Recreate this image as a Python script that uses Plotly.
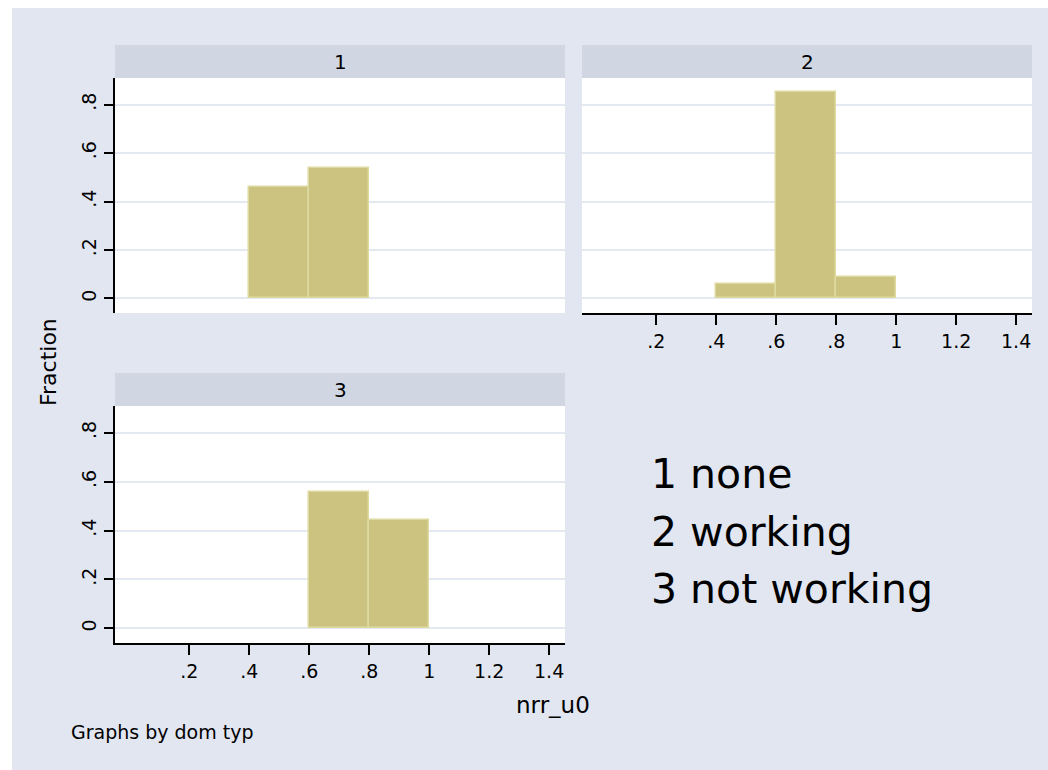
import plotly.graph_objects as go

# Histogram of nrr_u0 by dom typ (fraction of observations per bin)
bin_width = 0.2
panel_names = ["1", "2", "3"]
legend_lines = ["1 none", "2 working", "3 not working"]

bins_1 = [0.4, 0.6]
frac_1 = [0.462, 0.538]
bins_2 = [0.4, 0.6, 0.8]
frac_2 = [0.059, 0.853, 0.088]
bins_3 = [0.6, 0.8]
frac_3 = [0.556, 0.444]

x_tickvals = [0.2, 0.4, 0.6, 0.8, 1.0, 1.2, 1.4]
x_ticktext = [".2", ".4", ".6", ".8", "1", "1.2", "1.4"]
y_tickvals = [0, 0.2, 0.4, 0.6, 0.8]
y_ticktext = ["0", ".2", ".4", ".6", ".8"]

W, H = 1048, 770
BG = "#E1E6F0"
STRIP = "#D0D7E2"
GRID = "#E3E8F1"
BAR_FILL = "#CBC37F"
BAR_LINE = "#DEDA9F"
FONT = "DejaVu Sans"


def fx(px):
    return px / W


def fy(py):
    return 1 - py / H


# plot regions in pixels: (left, right, top, bottom)
regions = [
    (115, 565, 78, 313),
    (582, 1032, 78, 313),
    (115, 565, 406, 643),
]
x_range = [-0.048, 1.453]
y_range = [-0.06, 0.91]

fig = go.Figure()

datasets = [(bins_1, frac_1), (bins_2, frac_2), (bins_3, frac_3)]
for i, (bins, fr) in enumerate(datasets):
    suffix = "" if i == 0 else str(i + 1)
    fig.add_trace(go.Bar(
        x=[b + bin_width / 2 for b in bins],
        y=fr,
        width=bin_width,
        marker=dict(color=BAR_FILL, line=dict(color=BAR_LINE, width=1.5)),
        xaxis="x" + suffix,
        yaxis="y" + suffix,
        showlegend=False,
        hoverinfo="skip",
    ))

layout = dict(
    width=W, height=H,
    margin=dict(l=0, r=0, t=0, b=0),
    paper_bgcolor=BG,
    plot_bgcolor="white",
    font=dict(family=FONT, color="black", size=19),
    bargap=0,
    shapes=[],
    annotations=[],
)

show_y = [True, False, True]
show_x = [False, True, True]
for i, (l, r, t, b) in enumerate(regions):
    suffix = "" if i == 0 else str(i + 1)
    xa = dict(
        domain=[fx(l), fx(r)], range=x_range, anchor="y" + suffix,
        showgrid=False, zeroline=False,
        tickvals=x_tickvals, ticktext=x_ticktext,
        showticklabels=show_x[i], showline=show_x[i],
        linecolor="black", linewidth=2,
        ticks="outside" if show_x[i] else "", ticklen=10, tickwidth=2,
        tickcolor="black", tickfont=dict(size=19, family=FONT),
        fixedrange=True,
    )
    ya = dict(
        domain=[fy(b), fy(t)], range=y_range, anchor="x" + suffix,
        showgrid=True, gridcolor=GRID, gridwidth=2, zeroline=False,
        tickvals=y_tickvals, ticktext=y_ticktext,
        showticklabels=show_y[i], showline=show_y[i],
        linecolor="black", linewidth=2,
        ticks="outside" if show_y[i] else "", ticklen=9, tickwidth=2,
        tickcolor="black", tickangle=-90, tickfont=dict(size=19, family=FONT),
        fixedrange=True,
    )
    layout["xaxis" + suffix] = xa
    layout["yaxis" + suffix] = ya

# white page margin on the left and top edges
layout["shapes"].append(dict(
    type="rect", xref="paper", yref="paper", layer="below",
    x0=0, x1=fx(12), y0=0, y1=1,
    fillcolor="white", line=dict(width=0),
))
layout["shapes"].append(dict(
    type="rect", xref="paper", yref="paper", layer="below",
    x0=0, x1=1, y0=fy(8), y1=1,
    fillcolor="white", line=dict(width=0),
))

# subplot title strips
strips = [(115, 565, 45, 78), (582, 1032, 45, 78), (115, 565, 373, 406)]
for name, (l, r, t, b) in zip(panel_names, strips):
    layout["shapes"].append(dict(
        type="rect", xref="paper", yref="paper", layer="below",
        x0=fx(l), x1=fx(r), y0=fy(b), y1=fy(t),
        fillcolor=STRIP, line=dict(width=0),
    ))
    layout["annotations"].append(dict(
        text=name, xref="paper", yref="paper",
        x=fx((l + r) / 2), y=fy((t + b) / 2),
        xanchor="center", yanchor="middle", showarrow=False,
        font=dict(size=20, family=FONT, color="black"),
    ))

# category key
for line, yc in zip(legend_lines, [474, 532, 589]):
    layout["annotations"].append(dict(
        text=line, xref="paper", yref="paper",
        x=fx(649), y=fy(yc), xanchor="left", yanchor="middle",
        showarrow=False, font=dict(size=41, family=FONT, color="black"),
    ))

# axis titles and note
layout["annotations"].append(dict(
    text="Fraction", xref="paper", yref="paper",
    x=fx(48), y=fy(362), xanchor="center", yanchor="middle",
    textangle=-90, showarrow=False,
    font=dict(size=22, family=FONT, color="black"),
))
layout["annotations"].append(dict(
    text="nrr_u0", xref="paper", yref="paper",
    x=fx(592), y=fy(705), xanchor="right", yanchor="middle",
    showarrow=False, font=dict(size=23, family=FONT, color="black"),
))
layout["annotations"].append(dict(
    text="Graphs by dom typ", xref="paper", yref="paper",
    x=fx(69), y=fy(732), xanchor="left", yanchor="middle",
    showarrow=False, font=dict(size=19, family=FONT, color="black"),
))

fig.update_layout(**layout)
fig.write_html("out.html")
